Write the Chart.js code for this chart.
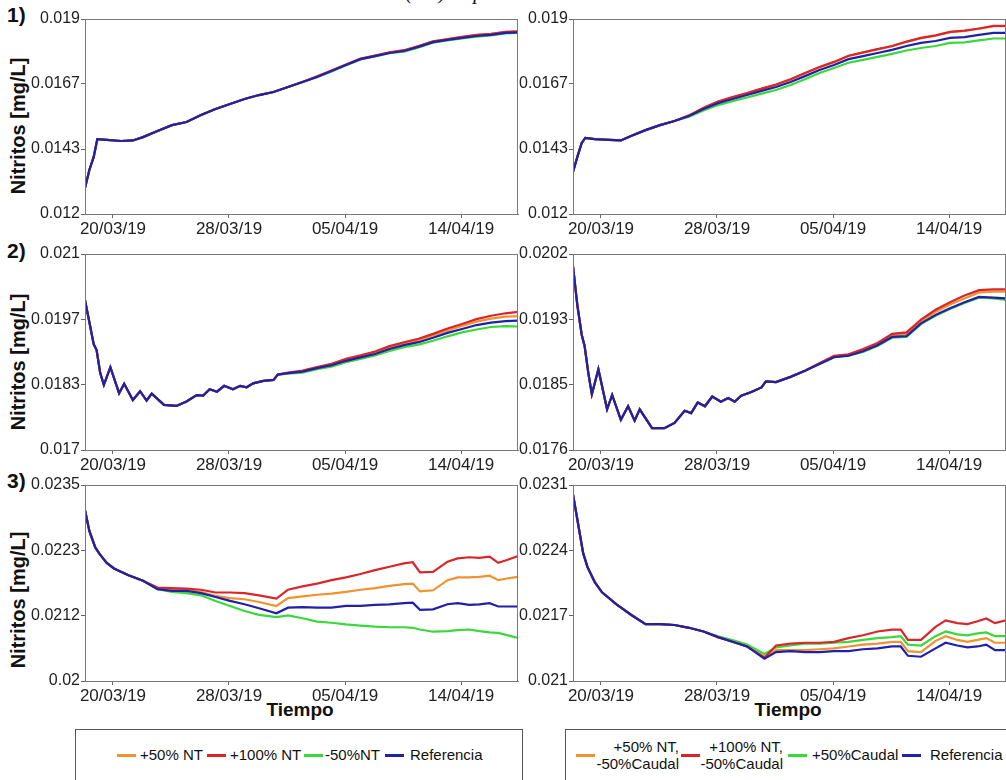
<!DOCTYPE html>
<html>
<head>
<meta charset="utf-8">
<script src="https://cdn.jsdelivr.net/npm/chart.js@4.4.1/dist/chart.umd.min.js"></script>
<style>
  html, body { margin: 0; padding: 0; background: #fff; }
  body { width: 1006px; height: 780px; overflow: hidden; position: relative; font-family: "Liberation Sans", Arial, sans-serif; color: #111; }
  canvas { position: absolute; }
  .caption { position: absolute; left: 300px; width: 400px; top: -18px; text-align: center; font: italic 21px/20px "Liberation Serif", "Times New Roman", serif; }
  .num { position: absolute; left: 7px; font-weight: bold; font-size: 21px; line-height: 22px; }
  .ytitle { position: absolute; left: 18px; font-weight: bold; font-size: 20px; white-space: nowrap; transform: translate(-50%, -50%) rotate(-90deg); }
  .xtitle { position: absolute; font-weight: bold; font-size: 19px; line-height: 20px; transform: translateX(-50%); }
  .box { position: absolute; top: 729px; height: 70px; border: 1.5px solid #555; box-sizing: border-box; }
  .ln { position: absolute; width: 19px; height: 3px; top: 754px; }
  .lt { position: absolute; font-size: 15px; line-height: 17px; top: 746px; white-space: nowrap; }
  .lt2 { position: absolute; font-size: 15px; line-height: 17px; top: 738px; white-space: nowrap; text-align: right; }
</style>
</head>
<body>
<div class="caption">(a.1) Experimentación</div>
<div class="num" style="top:4px">1)</div>
<div class="num" style="top:240px">2)</div>
<div class="num" style="top:470px">3)</div>
<div class="ytitle" style="top:126px">Nitritos [mg/L]</div>
<div class="ytitle" style="top:362px">Nitritos [mg/L]</div>
<div class="ytitle" style="top:600px">Nitritos [mg/L]</div>
<div class="xtitle" style="left:300px;top:700px">Tiempo</div>
<div class="xtitle" style="left:788px;top:700px">Tiempo</div>

<div class="box" style="left:75px;width:448px"></div>
<span class="ln" style="left:117px;background:#F0922D"></span><span class="lt" style="left:140px">+50% NT</span>
<span class="ln" style="left:207px;background:#D9262A"></span><span class="lt" style="left:230px">+100% NT</span>
<span class="ln" style="left:304px;background:#3AD83A"></span><span class="lt" style="left:325px">-50%NT</span>
<span class="ln" style="left:385px;background:#2323A8"></span><span class="lt" style="left:410px">Referencia</span>

<div class="box" style="left:565px;width:460px"></div>
<span class="ln" style="left:576px;background:#F0922D"></span><div class="lt2" style="left:585px;width:94px">+50% NT,<br>-50%Caudal</div>
<span class="ln" style="left:681px;background:#D9262A"></span><div class="lt2" style="left:689px;width:94px">+100% NT,<br>-50%Caudal</div>
<span class="ln" style="left:788px;background:#3AD83A"></span><span class="lt" style="left:812px">+50%Caudal</span>
<span class="ln" style="left:902px;background:#2323A8"></span><span class="lt" style="left:930px">Referencia</span>

<script>
// eje de tiempo en días desde el inicio de la simulación
const X_MAX = 29.86;
const xTickPos = [1.93, 9.93, 17.93, 25.93];
const xTickLabels = ['20/03/19', '28/03/19', '05/04/19', '14/04/19'];

// ---- fila 1 ----
const days1 = [0, 0.3, 0.6, 0.85, 1.5, 2.5, 3.3, 4, 5, 6, 7, 8, 9, 10, 11, 12, 13, 14, 15, 16, 17, 18, 19, 20, 21, 22, 23, 24, 25, 26, 27, 28, 29, 29.86];

const ref1L    = [.01293,.01358,.01405,.01469,.01466,.01462,.01464,.01476,.01498,.01519,.0153,.01555,.01577,.01595,.01613,.01627,.01638,.01656,.01674,.01692,.01713,.01735,.01756,.01767,.01778,.01785,.018,.01817,.01825,.01832,.01839,.01843,.0185,.01852];
const nt100_1L = [.01293,.01358,.01405,.01469,.01466,.01462,.01464,.01476,.01498,.01519,.0153,.01555,.01577,.01595,.01613,.01627,.01638,.01656,.01674,.01694,.01715,.01737,.01758,.01769,.0178,.01788,.01803,.0182,.01828,.01836,.01843,.01847,.01854,.01856];
const nt50_1L  = [.01293,.01358,.01405,.01469,.01466,.01462,.01464,.01476,.01498,.01519,.0153,.01555,.01577,.01595,.01613,.01627,.01638,.01656,.01674,.01693,.01714,.01736,.01757,.01768,.01779,.01787,.01802,.01819,.01827,.01835,.01842,.01846,.01853,.01855];
const ntm50_1L = [.01293,.01358,.01405,.01469,.01466,.01462,.01464,.01476,.01498,.01519,.0153,.01555,.01577,.01595,.01613,.01627,.01638,.01656,.01674,.01691,.01712,.01734,.01755,.01766,.01777,.01783,.01798,.01815,.01823,.0183,.01837,.01841,.01848,.0185];

const ref1R    = [.01351,.01405,.01455,.01473,.01469,.01466,.01464,.0148,.01501,.01519,.01534,.01552,.01577,.01598,.01613,.01627,.01642,.01656,.01674,.01695,.01717,.01735,.01756,.01767,.01778,.01789,.01803,.01814,.01821,.01832,.01835,.01843,.0185,.0185];
const a1R      = [.01351,.01405,.01455,.01473,.01469,.01466,.01464,.0148,.01501,.01519,.01534,.01553,.0158,.01603,.01619,.01633,.01649,.01664,.01683,.01705,.01727,.01745,.01767,.01779,.01791,.01802,.01818,.01831,.0184,.01853,.01857,.01865,.01874,.01874];
const b1R      = [.01351,.01405,.01455,.01473,.01469,.01466,.01464,.0148,.01501,.01519,.01534,.01554,.01581,.01604,.0162,.01634,.0165,.01665,.01684,.01706,.01728,.01746,.01768,.0178,.01792,.01803,.01819,.01832,.01841,.01854,.01858,.01866,.01875,.01875];
const c1R      = [.01351,.01405,.01455,.01473,.01469,.01466,.01464,.0148,.01501,.01519,.01534,.01549,.01572,.01591,.01605,.01618,.01632,.01645,.01663,.01684,.01706,.01724,.01743,.01753,.01764,.01775,.01787,.01796,.01803,.01814,.01816,.01823,.0183,.0183];

// ---- fila 2 ----
const days2 = [0, 0.3, 0.6, 0.8, 1.05, 1.3, 1.75, 2.35, 2.7, 3.3, 3.8, 4.25, 4.6, 5.45, 6.3, 7, 7.7, 8.15, 8.6, 9.1, 9.6, 10.2, 10.7, 11.15, 11.6, 12.3, 13, 13.3, 14, 15, 16, 17, 18, 19, 20, 21, 22, 23, 24, 25, 26, 27, 28, 29, 29.86];

const ref2L    = [.02006,.01961,.01916,.01904,.01857,.01833,.01869,.01816,.01835,.01802,.0182,.01801,.01815,.01792,.0179,.01799,.01812,.01811,.01824,.01819,.01831,.01824,.01831,.01828,.01836,.01841,.01843,.01854,.01857,.0186,.01867,.01873,.01882,.01889,.01896,.01906,.01914,.0192,.01929,.01939,.01947,.01955,.0196,.01963,.01964];
const nt100_2L = [.02006,.01961,.01916,.01904,.01857,.01833,.01869,.01816,.01835,.01802,.0182,.01801,.01815,.01792,.0179,.01799,.01812,.01811,.01824,.01819,.01831,.01824,.01831,.01828,.01836,.01841,.01843,.01854,.01858,.01862,.01869,.01876,.01886,.01893,.01901,.01912,.0192,.01927,.01937,.01948,.01957,.01967,.01974,.01979,.01982];
const nt50_2L  = [.02006,.01961,.01916,.01904,.01857,.01833,.01869,.01816,.01835,.01802,.0182,.01801,.01815,.01792,.0179,.01799,.01812,.01811,.01824,.01819,.01831,.01824,.01831,.01828,.01836,.01841,.01843,.01854,.01857,.01861,.01868,.01875,.01884,.01891,.01899,.01909,.01917,.01924,.01934,.01944,.01953,.01962,.01968,.01972,.01973];
const ntm50_2L = [.02006,.01961,.01916,.01904,.01857,.01833,.01869,.01816,.01835,.01802,.0182,.01801,.01815,.01792,.0179,.01799,.01812,.01811,.01824,.01819,.01831,.01824,.01831,.01828,.01836,.01841,.01843,.01854,.01856,.01858,.01865,.0187,.01879,.01886,.01893,.01902,.0191,.01915,.01923,.01932,.0194,.01946,.01951,.01953,.01952];

const ref2R    = [.02004,.01952,.01913,.01898,.01863,.01834,.01867,.01814,.01833,.018,.01818,.01799,.01814,.01789,.01789,.01796,.01812,.01809,.01823,.01818,.01831,.01824,.01829,.01824,.01832,.01837,.01843,.01851,.0185,.01857,.01865,.01874,.01883,.01885,.01891,.01899,.0191,.01911,.01928,.01939,.01948,.01956,.01963,.01962,.01961];
const a2R      = [.02004,.01952,.01913,.01898,.01863,.01834,.01867,.01814,.01833,.018,.01818,.01799,.01814,.01789,.01789,.01796,.01812,.01809,.01823,.01818,.01831,.01824,.01829,.01824,.01832,.01837,.01843,.01851,.0185,.01857,.01865,.01875,.01884,.01886,.01893,.01901,.01912,.01914,.01931,.01943,.01953,.01961,.01969,.0197,.0197];
const b2R      = [.02004,.01952,.01913,.01898,.01863,.01834,.01867,.01814,.01833,.018,.01818,.01799,.01814,.01789,.01789,.01796,.01812,.01809,.01823,.01818,.01831,.01824,.01829,.01824,.01832,.01837,.01843,.01851,.0185,.01857,.01865,.01875,.01885,.01887,.01894,.01902,.01914,.01916,.01933,.01946,.01956,.01965,.01972,.01973,.01973];
const c2R      = [.02004,.01952,.01913,.01898,.01863,.01834,.01867,.01814,.01833,.018,.01818,.01799,.01814,.01789,.01789,.01796,.01812,.01809,.01823,.01818,.01831,.01824,.01829,.01824,.01832,.01837,.01843,.01851,.0185,.01857,.01865,.01874,.01883,.01885,.0189,.01898,.01909,.0191,.01927,.01938,.01947,.01955,.01962,.01961,.01959];

// ---- fila 3 ----
const days3 = [0, 0.3, 0.7, 1, 1.5, 2, 3, 4, 5, 6, 7, 8, 9, 10, 11, 12, 13.2, 14, 15, 16, 17, 18, 19, 20, 21, 22, 22.6, 23.1, 24, 25, 25.7, 26.5, 27.2, 27.9, 28.5, 29.1, 29.86];

const ref3L    = [.02305,.02268,.02239,.02227,.02211,.02201,.02189,.02179,.02164,.02161,.02161,.02157,.0215,.02143,.02137,.0213,.02121,.02131,.02132,.02131,.02131,.02134,.02134,.02136,.02137,.02139,.0214,.02127,.02128,.02137,.02139,.02136,.02137,.02139,.02133,.02133,.02133];
const nt100_3L = [.02305,.02268,.02239,.02227,.02211,.02201,.02189,.02179,.02167,.02166,.02165,.02163,.02158,.02158,.02157,.02153,.02147,.02163,.02169,.02174,.0218,.02185,.02191,.02198,.02204,.0221,.02212,.02194,.02195,.02213,.02219,.02221,.0222,.02222,.02211,.02216,.02223];
const nt50_3L  = [.02305,.02268,.02239,.02227,.02211,.02201,.02189,.02179,.02165,.02164,.02163,.02159,.02152,.02148,.02146,.02141,.02134,.02148,.02151,.02154,.02156,.02159,.02163,.02166,.0217,.02173,.02174,.0216,.02162,.0218,.02185,.02185,.02186,.02188,.0218,.02183,.02186];
const ntm50_3L = [.02305,.02268,.02239,.02227,.02211,.02201,.02189,.02179,.02164,.02159,.02157,.02153,.02143,.02134,.02125,.02118,.02114,.02117,.02112,.02106,.02104,.02101,.02099,.02097,.02096,.02096,.02095,.02092,.02088,.02089,.02091,.02092,.02089,.02087,.02086,.02082,.02077];

const ref3R    = [.0230,.02273,.02237,.02222,.02206,.02195,.02182,.02171,.02161,.02161,.0216,.02157,.02153,.02147,.02142,.02137,.02124,.02131,.02132,.02131,.02131,.02132,.02132,.02134,.02135,.02137,.02137,.02127,.02126,.02135,.02141,.02138,.02136,.02137,.02139,.02133,.02133];
const a3R      = [.0230,.02273,.02237,.02222,.02206,.02195,.02182,.02171,.02161,.02161,.0216,.02157,.02153,.02147,.02142,.02137,.02126,.02133,.02133,.02133,.02134,.02135,.02137,.02139,.0214,.02142,.02142,.02132,.02131,.02143,.02148,.02144,.02142,.02144,.02146,.02141,.02141];
const b3R      = [.0230,.02273,.02237,.02222,.02206,.02195,.02182,.02171,.02161,.02161,.0216,.02157,.02153,.02147,.02142,.02137,.02125,.02138,.0214,.02141,.02141,.02142,.02146,.02149,.02153,.02155,.02155,.02144,.02144,.02158,.02165,.02162,.02161,.02164,.02167,.02162,.02165];
const c3R      = [.0230,.02273,.02237,.02222,.02206,.02195,.02182,.02171,.02161,.02161,.0216,.02157,.02153,.02148,.02144,.02139,.02129,.02136,.02138,.0214,.0214,.02141,.02142,.02144,.02146,.02147,.02148,.02139,.02138,.02148,.02153,.0215,.02149,.02151,.02152,.02148,.02148];

// ---- ejes Y ----
const yTicks1 = [0.012, 0.0143333, 0.0166667, 0.019];
const yLabels1 = ['0.012', '0.0143', '0.0167', '0.019'];
const yTicks2L = [0.017, 0.0183333, 0.0196667, 0.021];
const yLabels2L = ['0.017', '0.0183', '0.0197', '0.021'];
const yTicks2R = [0.0176, 0.0184667, 0.0193333, 0.0202];
const yLabels2R = ['0.0176', '0.0185', '0.0193', '0.0202'];
const yTicks3L = [0.02, 0.0211667, 0.0223333, 0.0235];
const yLabels3L = ['0.02', '0.0212', '0.0223', '0.0235'];
const yTicks3R = [0.021, 0.0217, 0.0224, 0.0231];
const yLabels3R = ['0.021', '0.0217', '0.0224', '0.0231'];

// naranja, rojo, verde, azul
const COLORS = ['#F0922D', '#D9262A', '#3AD83A', '#2020AA'];
const ORDER = [3, 1, 2, 0];

const ROW_TOP = [19, 254, 485];
const ROW_H = [195, 196, 196];

Chart.defaults.font.family = '"Liberation Sans", Arial, sans-serif';

const boxPlugin = {
    id: 'box',
    afterDraw(chart) {
        const { ctx, chartArea: a } = chart;
        ctx.save();
        ctx.strokeStyle = '#7a7a7a';
        ctx.lineWidth = 1;
        ctx.strokeRect(a.left + 0.5, a.top + 0.5, a.right - a.left - 1, a.bottom - a.top);
        ctx.restore();
    }
};

const panels = [
    { row: 0, col: 0, days: days1, series: [nt50_1L, nt100_1L, ntm50_1L, ref1L], yMin: 0.012, yMax: 0.019, yTicks: yTicks1, yLabels: yLabels1 },
    { row: 0, col: 1, days: days1, series: [a1R, b1R, c1R, ref1R], yMin: 0.012, yMax: 0.019, yTicks: yTicks1, yLabels: yLabels1 },
    { row: 1, col: 0, days: days2, series: [nt50_2L, nt100_2L, ntm50_2L, ref2L], yMin: 0.017, yMax: 0.021, yTicks: yTicks2L, yLabels: yLabels2L },
    { row: 1, col: 1, days: days2, series: [a2R, b2R, c2R, ref2R], yMin: 0.0176, yMax: 0.0202, yTicks: yTicks2R, yLabels: yLabels2R },
    { row: 2, col: 0, days: days3, series: [nt50_3L, nt100_3L, ntm50_3L, ref3L], yMin: 0.02, yMax: 0.0235, yTicks: yTicks3L, yLabels: yLabels3L },
    { row: 2, col: 1, days: days3, series: [a3R, b3R, c3R, ref3R], yMin: 0.021, yMax: 0.0231, yTicks: yTicks3R, yLabels: yLabels3R }
];

function makePanel(p) {
    const isLeft = p.col === 0;
    const cv = document.createElement('canvas');
    cv.width = isLeft ? 520 : 501;
    cv.height = 12 + ROW_H[p.row] + 26;
    cv.style.left = (isLeft ? 0 : 505) + 'px';
    cv.style.top = (ROW_TOP[p.row] - 12) + 'px';
    document.body.appendChild(cv);

    new Chart(cv, {
        type: 'line',
        data: {
            datasets: p.series.map((vals, i) => ({
                data: p.days.map((d, k) => ({ x: d, y: vals[k] })),
                borderColor: COLORS[i],
                borderWidth: 2.2,
                pointRadius: 0,
                tension: 0,
                order: ORDER[i]
            }))
        },
        options: {
            responsive: false,
            animation: false,
            events: [],
            layout: { padding: { top: 12, right: isLeft ? 2 : 0, left: 0, bottom: 0 } },
            plugins: { legend: { display: false }, tooltip: { enabled: false } },
            scales: {
                x: {
                    type: 'linear', min: 0, max: X_MAX,
                    afterBuildTicks: s => { s.ticks = xTickPos.map(v => ({ value: v })); },
                    afterFit: s => { s.height = 26; },
                    ticks: { autoSkip: false, maxRotation: 0, padding: 1, color: '#222', font: { size: 17 },
                             callback: (v, i) => xTickLabels[i] },
                    grid: { drawOnChartArea: false, tickLength: 4, color: '#666' },
                    border: { color: '#7a7a7a' }
                },
                y: {
                    type: 'linear', min: p.yMin, max: p.yMax,
                    afterBuildTicks: s => { s.ticks = p.yTicks.map(v => ({ value: v })); },
                    afterFit: s => { s.width = isLeft ? 85 : 68; },
                    ticks: { padding: 1, color: '#222', font: { size: 16 },
                             callback: (v, i) => p.yLabels[i] },
                    grid: { drawOnChartArea: false, tickLength: 4, color: '#666' },
                    border: { color: '#7a7a7a' }
                }
            }
        },
        plugins: [boxPlugin]
    });
}

panels.forEach(makePanel);
</script>
</body>
</html>
